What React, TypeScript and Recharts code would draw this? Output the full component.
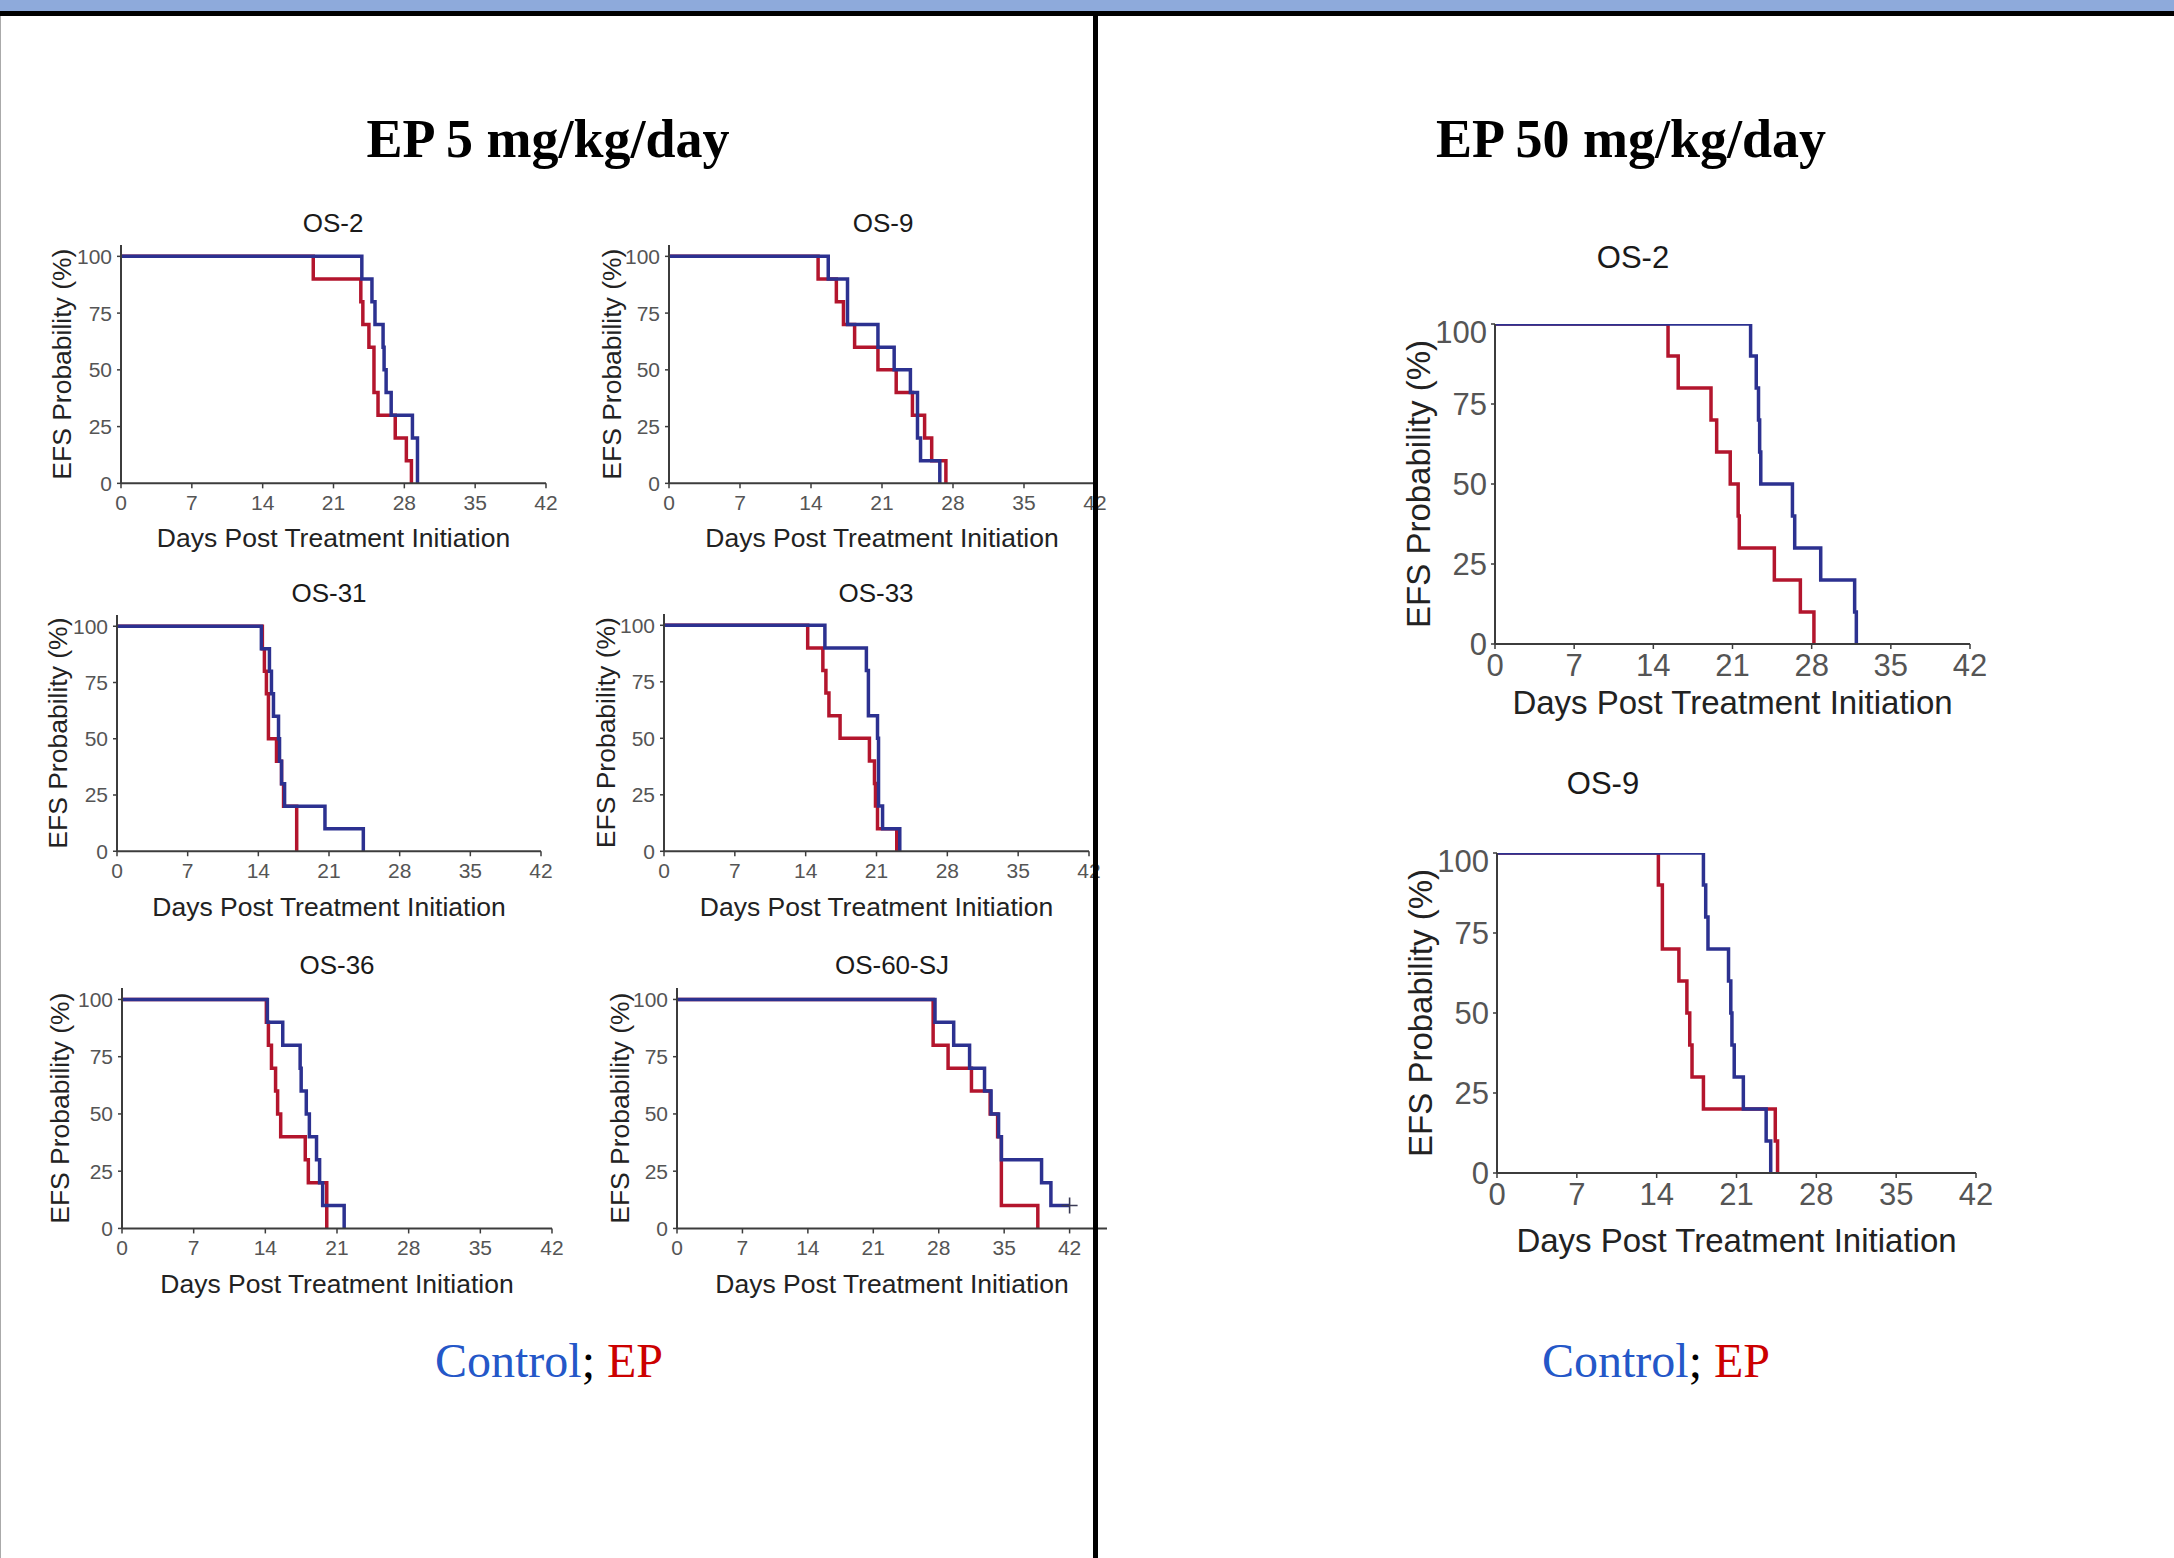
import { ComposedChart, Line, Scatter, XAxis, YAxis } from 'recharts';

type Step = [number, number];

const dayTicks = [0, 7, 14, 21, 28, 35, 42];
const efsTicks = [0, 25, 50, 75, 100];

// EP 5 mg/kg/day  — [day, EFS %] at each step of the curve
const os2Ctrl5: Step[] = [[0, 100], [23.8, 90], [24.8, 80], [25.1, 70], [25.9, 60], [26.0, 50], [26.2, 40], [26.7, 30], [28.8, 20], [29.3, 0]];
const os2Ep5: Step[] = [[0, 100], [19.0, 90], [23.7, 80], [23.9, 70], [24.5, 60], [25.0, 40], [25.4, 30], [27.1, 20], [28.2, 10], [28.7, 0]];

const os9Ctrl5: Step[] = [[0, 100], [15.7, 90], [17.6, 70], [20.6, 60], [22.2, 50], [23.8, 40], [24.5, 20], [24.8, 10], [26.7, 0]];
const os9Ep5: Step[] = [[0, 100], [14.7, 90], [16.5, 80], [17.2, 70], [18.3, 60], [20.6, 50], [22.4, 40], [24.0, 30], [25.2, 20], [25.9, 10], [27.3, 0]];

const os31Ctrl: Step[] = [[0, 100], [14.3, 90], [15.1, 80], [15.3, 70], [15.5, 60], [16.0, 50], [16.1, 40], [16.3, 30], [16.6, 20], [20.6, 10], [24.4, 0]];
const os31Ep: Step[] = [[0, 100], [14.4, 90], [14.6, 80], [14.8, 70], [15.0, 50], [15.8, 40], [16.3, 30], [16.5, 20], [17.8, 0]];

const os33Ctrl: Step[] = [[0, 100], [15.9, 90], [20.0, 80], [20.2, 60], [21.1, 50], [21.2, 20], [21.6, 10], [23.3, 0]];
const os33Ep: Step[] = [[0, 100], [14.2, 90], [15.7, 80], [16.0, 70], [16.3, 60], [17.4, 50], [20.3, 40], [20.8, 30], [20.9, 20], [21.1, 10], [23.0, 0]];

const os36Ctrl: Step[] = [[0, 100], [14.2, 90], [15.7, 80], [17.4, 70], [17.5, 60], [18.0, 50], [18.3, 40], [19.0, 30], [19.3, 20], [19.6, 10], [21.7, 0]];
const os36Ep: Step[] = [[0, 100], [14.1, 90], [14.3, 80], [14.6, 70], [15.0, 60], [15.2, 50], [15.5, 40], [17.9, 30], [18.2, 20], [20.0, 0]];

const os60Ctrl: Step[] = [[0, 100], [27.6, 90], [29.6, 80], [31.3, 70], [32.9, 60], [33.6, 50], [34.4, 40], [34.7, 30], [39.0, 20], [40.0, 10], [42.0, 10]];
const os60Ep: Step[] = [[0, 100], [27.4, 80], [29.0, 70], [31.5, 60], [33.5, 50], [34.3, 40], [34.7, 10], [38.6, 0]];
const os60CtrlCensored: Step[] = [[42.0, 10]];

// EP 50 mg/kg/day
const os2Ctrl50: Step[] = [[0, 100], [22.6, 90], [23.1, 80], [23.3, 70], [23.4, 60], [23.5, 50], [26.3, 40], [26.5, 30], [28.8, 20], [31.8, 10], [31.95, 0]];
const os2Ep50: Step[] = [[0, 100], [15.3, 90], [16.2, 80], [19.1, 70], [19.6, 60], [20.8, 50], [21.5, 40], [21.6, 30], [24.7, 20], [27.0, 10], [28.2, 0]];

const os9Ctrl50: Step[] = [[0, 100], [18.1, 90], [18.3, 80], [18.5, 70], [20.3, 60], [20.5, 50], [20.6, 40], [20.8, 30], [21.6, 20], [23.6, 10], [24.0, 0]];
const os9Ep50: Step[] = [[0, 100], [14.15, 90], [14.5, 70], [15.95, 60], [16.65, 50], [16.9, 40], [17.1, 30], [18.1, 20], [24.4, 10], [24.6, 0]];

const toRows = (s: Step[]) => s.map(([day, efs]) => ({ day, efs }));

const BLUE = '#2c3190';
const RED = '#b3152d';
const AXIS = '#3c3c3c';
const SANS = '"Liberation Sans", Arial, sans-serif';
const SERIF = '"Liberation Serif", "Times New Roman", serif';

type PanelProps = {
  ctrl: Step[];
  ep: Step[];
  censor?: Step[];
  x0: number; // pixel x of day 0
  y100: number; // pixel y of 100 %
  pw: number; // plot width over the whole x domain
  ph: number; // pixels from 100 % down to 0 %
  xMax?: number;
  yTop?: number;
  big?: boolean;
  yLabelX: number;
  xLabelY: number;
};

function KMPanel({ ctrl, ep, censor, x0, y100, pw, ph, xMax = 42, yTop = 100, big = false, yLabelX, xLabelY }: PanelProps) {
  const yw = big ? 100 : 80;
  const xh = big ? 95 : 80;
  const mTop = 10;
  const mRight = 20;
  const extra = (ph * (yTop - 100)) / 100;
  const W = yw + pw + mRight;
  const H = mTop + extra + ph + xh;
  const tickFont = big ? 31 : 21;
  const labelFont = big ? 33 : 26.5;
  const left = x0 - yw;
  const top = y100 - extra - mTop;

  return (
    <div style={{ position: 'absolute', left, top }}>
      <ComposedChart width={W} height={H} margin={{ top: mTop, right: mRight, left: 0, bottom: 0 }}>
        <XAxis
          type="number"
          dataKey="day"
          domain={[0, xMax]}
          ticks={dayTicks}
          allowDataOverflow
          height={xh}
          axisLine={{ stroke: AXIS, strokeWidth: 2 }}
          tickLine={{ stroke: AXIS, strokeWidth: 1.5 }}
          tickSize={5}
          tickMargin={big ? 5 : 7}
          tick={{ fill: '#555', fontSize: tickFont, fontFamily: SANS }}
          label={{
            value: 'Days Post Treatment Initiation',
            position: 'insideTop',
            offset: xLabelY - (y100 + ph) - 0.358 * labelFont,
            fill: '#222',
            fontSize: labelFont,
            fontFamily: SANS,
          }}
        />
        <YAxis
          type="number"
          dataKey="efs"
          domain={[0, yTop]}
          ticks={efsTicks}
          allowDataOverflow
          width={yw}
          axisLine={{ stroke: AXIS, strokeWidth: 2 }}
          tickLine={{ stroke: AXIS, strokeWidth: 1.5 }}
          tickSize={4}
          tickMargin={big ? 4 : 5}
          tick={{ fill: '#555', fontSize: tickFont, fontFamily: SANS }}
          label={{
            value: 'EFS Probability (%)',
            angle: -90,
            position: 'insideLeft',
            offset: yLabelX - left,
            textAnchor: 'middle',
            fill: '#222',
            fontSize: labelFont,
            fontFamily: SANS,
          }}
        />
        <Line data={toRows(ep)} type="stepAfter" dataKey="efs" stroke={RED} strokeWidth={3.5} dot={false} isAnimationActive={false} />
        <Line data={toRows(ctrl)} type="stepAfter" dataKey="efs" stroke={BLUE} strokeWidth={3.5} dot={false} isAnimationActive={false} />
        {censor && (
          <Scatter
            data={toRows(censor)}
            dataKey="efs"
            isAnimationActive={false}
            shape={(p: any) => (
              <path d={`M${p.cx - 8},${p.cy}h16M${p.cx},${p.cy - 8}v16`} stroke="#3a3a55" strokeWidth={1.6} fill="none" />
            )}
          />
        )}
      </ComposedChart>
    </div>
  );
}

export default function App() {
  return (
    <div style={{ position: 'absolute', left: 0, top: 0, width: 2174, height: 1558, background: '#fff', overflow: 'hidden' }}>
      <div style={{ position: 'absolute', left: 0, top: 0, width: 2174, height: 11, background: '#8eaadb' }} />
      <div style={{ position: 'absolute', left: 0, top: 11, width: 2174, height: 5, background: '#000' }} />
      <div style={{ position: 'absolute', left: 0, top: 16, width: 1, height: 1542, background: '#aaa' }} />

      <svg width={2174} height={1558} style={{ position: 'absolute', left: 0, top: 0 }}>
        <text x={548} y={157} textAnchor="middle" fontFamily={SERIF} fontWeight="bold" fontSize={54} fill="#000">EP 5 mg/kg/day</text>
        <text x={1631} y={157} textAnchor="middle" fontFamily={SERIF} fontWeight="bold" fontSize={54} fill="#000">EP 50 mg/kg/day</text>

        <g fontFamily={SANS} fontSize={26} fill="#1a1a1a" textAnchor="middle">
          <text x={333} y={232}>OS-2</text>
          <text x={883} y={232}>OS-9</text>
          <text x={329} y={602}>OS-31</text>
          <text x={876} y={602}>OS-33</text>
          <text x={337} y={974}>OS-36</text>
          <text x={892} y={974}>OS-60-SJ</text>
        </g>
        <g fontFamily={SANS} fontSize={31} fill="#1a1a1a" textAnchor="middle">
          <text x={1633} y={268}>OS-2</text>
          <text x={1603} y={794}>OS-9</text>
        </g>

        <text x={549} y={1377} textAnchor="middle" fontFamily={SERIF} fontSize={48}>
          <tspan fill="#2457c8">Control</tspan>
          <tspan fill="#000">; </tspan>
          <tspan fill="#cc0000">EP</tspan>
        </text>
        <text x={1656} y={1377} textAnchor="middle" fontFamily={SERIF} fontSize={48}>
          <tspan fill="#2457c8">Control</tspan>
          <tspan fill="#000">; </tspan>
          <tspan fill="#cc0000">EP</tspan>
        </text>
      </svg>

      <KMPanel ctrl={os2Ctrl5} ep={os2Ep5} x0={121} y100={256} pw={425} ph={227} yTop={105} yLabelX={62} xLabelY={537} />
      <KMPanel ctrl={os9Ctrl5} ep={os9Ep5} x0={669} y100={256} pw={426} ph={227} yTop={105} yLabelX={612} xLabelY={537} />
      <KMPanel ctrl={os31Ctrl} ep={os31Ep} x0={117} y100={626} pw={424} ph={225} yTop={105} yLabelX={58} xLabelY={906} />
      <KMPanel ctrl={os33Ctrl} ep={os33Ep} x0={664} y100={625} pw={425} ph={226} yTop={105} yLabelX={606} xLabelY={906} />
      <KMPanel ctrl={os36Ctrl} ep={os36Ep} x0={122} y100={999} pw={430} ph={229} yTop={105} yLabelX={60} xLabelY={1283} />
      <KMPanel ctrl={os60Ctrl} ep={os60Ep} censor={os60CtrlCensored} x0={677} y100={999} pw={430} ph={229} xMax={46} yTop={105} yLabelX={620} xLabelY={1283} />

      <KMPanel big ctrl={os2Ctrl50} ep={os2Ep50} x0={1495} y100={324} pw={475} ph={320} yLabelX={1418} xLabelY={702} />
      <KMPanel big ctrl={os9Ctrl50} ep={os9Ep50} x0={1497} y100={853} pw={479} ph={320} yLabelX={1420} xLabelY={1240} />

      <div style={{ position: 'absolute', left: 1093, top: 11, width: 5, height: 1547, background: '#000', zIndex: 5 }} />
    </div>
  );
}
